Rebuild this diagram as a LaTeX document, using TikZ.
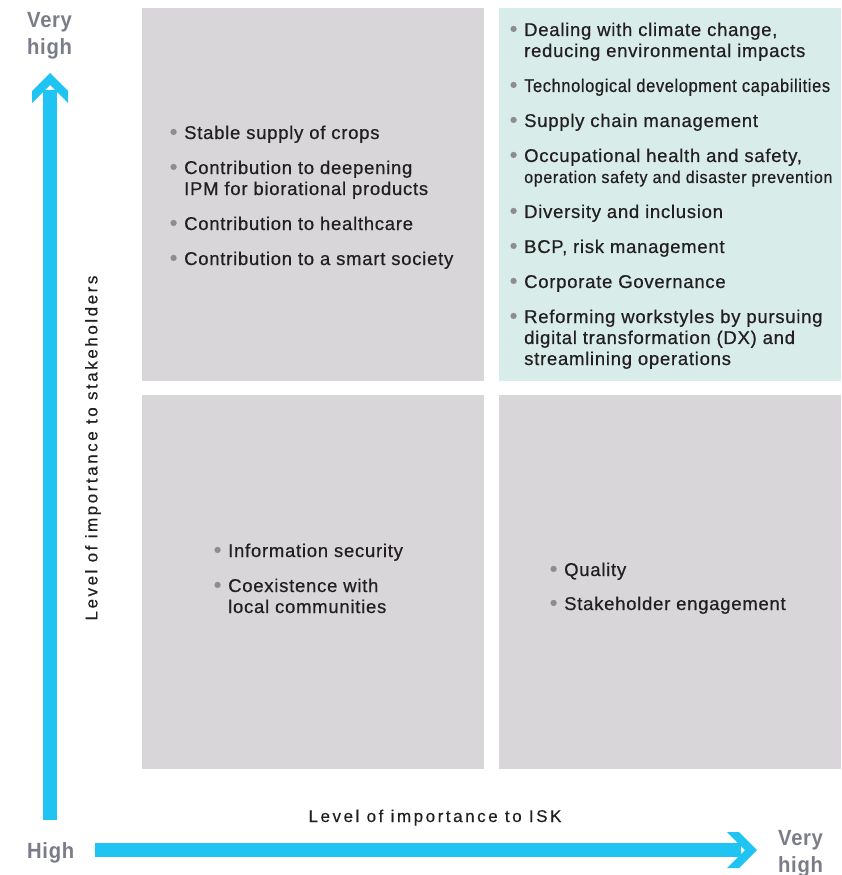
\documentclass[tikz,border=0pt]{standalone}
\usepackage{fontspec}
\usepackage{xcolor}
\usepackage{graphicx}
\setmainfont{Liberation Sans}[LetterSpace=4,FakeBold=0.6]
\newfontfamily\axisfont{Liberation Sans}[LetterSpace=15,FakeBold=0.4]
\newfontfamily\endfont{Liberation Sans}[FakeStretch=0.92,LetterSpace=3]

\definecolor{boxgray}{HTML}{D8D6D8}
\definecolor{boxteal}{HTML}{D8ECE9}
\definecolor{axiscyan}{HTML}{20C4F2}
\definecolor{labelgray}{HTML}{7A7C88}
\definecolor{ink}{HTML}{231F20}
\definecolor{bulletgray}{HTML}{8C8D92}

\newcommand\bul{\makebox[14.5pt][l]{\textcolor{bulletgray}{\raisebox{-0.3pt}{\scalebox{1.2}{•}}}}}
\newcommand\ind{\hspace{14.5pt}}

\begin{document}
\begin{tikzpicture}[x=1pt,y=-1pt,
    quad/.style={minimum width=342pt,minimum height=373pt,inner sep=0pt,outer sep=0pt},
    itemlist/.style={inner sep=0pt,anchor=base west,text=ink,font=\fontsize{18.5}{21}\selectfont},
    endlabel/.style={inner sep=0pt,text=labelgray,font=\endfont\bfseries\fontsize{22}{27}\selectfont},
    axislabel/.style={inner sep=0pt,text=ink,font=\axisfont\fontsize{17}{20}\selectfont},
    axisline/.style={draw=axiscyan,line width=14pt}]
    \useasboundingbox (0,0) rectangle (841,875);
    % the four quadrants
    \node[quad,fill=boxgray] (tl) at (313,194.5) {};
    \node[quad,fill=boxteal] (tr) at (670,194.5) {};
    \node[quad,fill=boxgray,minimum height=374pt] (bl) at (313,582) {};
    \node[quad,fill=boxgray,minimum height=374pt] (br) at (670,582) {};
    % axes
    \coordinate (vlow) at (50,820);
    \coordinate (vhigh) at (50,90);
    \coordinate (vtip) at (50,73);
    \coordinate (hlow) at (95,850);
    \coordinate (hhigh) at (741,850);
    \coordinate (htip) at (757,850);
    \draw[axisline] (vlow) -- (vhigh);
    \fill[axiscyan] (vtip) -- ++(18,18) -- ++(0,12) -- ++(-18,-18) -- ++(-18,18) -- ++(0,-12) -- cycle;
    \draw[axisline] (hlow) -- (hhigh);
    \fill[axiscyan] (htip) -- ++(-18,-18) -- ++(-12,0) -- ++(18,18) -- ++(-18,18) -- ++(12,0) -- cycle;
    \node[endlabel,anchor=north west,align=left] (topend) at (27,12.5) {Very\\high};
    \node[endlabel,anchor=base west] (lowend) at (27,858) {High};
    \node[endlabel,anchor=north west,align=left] (rightend) at (778,830) {Very\\high};
    \node[axislabel,anchor=base] (isk) at (435,822) {Level of importance to ISK};
    \node[axislabel,rotate=90] (stake) at (93,448) {Level of importance to stakeholders};
    % issues in each quadrant
    \node[itemlist] (tlitems) at (169.5,139) {\begin{tabular}[t]{@{}l@{}}
        \bul Stable supply of crops\\[14pt]
        \bul Contribution to deepening\\
        \ind IPM for biorational products\\[14pt]
        \bul Contribution to healthcare\\[14pt]
        \bul Contribution to a smart society
        \end{tabular}};
    \node[itemlist] (tritems) at (509.5,36) {\begin{tabular}[t]{@{}l@{}}
        \bul Dealing with climate change,\\
        \ind reducing environmental impacts\\[14pt]
        \bul \scalebox{0.885}[1]{Technological development capabilities}\\[14pt]
        \bul Supply chain management\\[14pt]
        \bul Occupational health and safety,\\
        \ind {\fontsize{17}{21}\selectfont\scalebox{0.945}[1]{operation safety and disaster prevention}}\\[14pt]
        \bul Diversity and inclusion\\[14pt]
        \bul BCP, risk management\\[14pt]
        \bul Corporate Governance\\[14pt]
        \bul Reforming workstyles by pursuing\\
        \ind digital transformation (DX) and\\
        \ind streamlining operations
        \end{tabular}};
    \node[itemlist] (blitems) at (213.5,557) {\begin{tabular}[t]{@{}l@{}}
        \bul Information security\\[14pt]
        \bul Coexistence with\\
        \ind local communities
        \end{tabular}};
    \node[itemlist] (britems) at (549.5,576) {\begin{tabular}[t]{@{}l@{}}
        \bul Quality\\[13pt]
        \bul Stakeholder engagement
        \end{tabular}};
\end{tikzpicture}
\end{document}
